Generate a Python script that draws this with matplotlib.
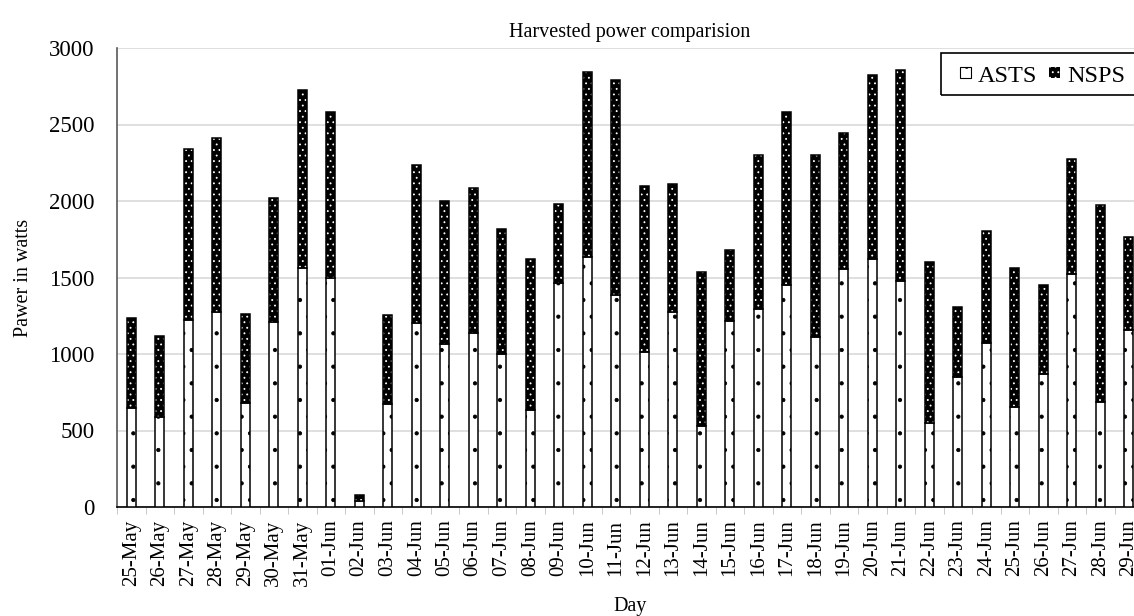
import matplotlib.pyplot as plt
from matplotlib.patches import Patch, Rectangle
import numpy as np

plt.rcParams['font.family'] = ['Liberation Serif', 'DejaVu Serif']
plt.rcParams['hatch.linewidth'] = 0.6

days = ['25-May', '26-May', '27-May', '28-May', '29-May', '30-May', '31-May',
        '01-Jun', '02-Jun', '03-Jun', '04-Jun', '05-Jun', '06-Jun', '07-Jun',
        '08-Jun', '09-Jun', '10-Jun', '11-Jun', '12-Jun', '13-Jun', '14-Jun',
        '15-Jun', '16-Jun', '17-Jun', '18-Jun', '19-Jun', '20-Jun', '21-Jun',
        '22-Jun', '23-Jun', '24-Jun', '25-Jun', '26-Jun', '27-Jun', '28-Jun',
        '29-Jun']

# ASTS = lower segment, total = top of the stack
asts = [650, 585, 1225, 1275, 680, 1210, 1565, 1500, 38, 671, 1203, 1064,
        1134, 1003, 637, 1461, 1635, 1384, 1016, 1275, 532, 1217, 1297, 1454,
        1110, 1554, 1618, 1480, 547, 852, 1075, 656, 868, 1520, 685, 1160]
total = [1234, 1116, 2339, 2411, 1262, 2017, 2725, 2581, 80, 1256, 2233, 1999,
         2082, 1814, 1620, 1982, 2841, 2788, 2095, 2110, 1537, 1683, 2300, 2581,
         2302, 2444, 2821, 2854, 1602, 1310, 1807, 1565, 1452, 2276, 1971, 1766]
nsps = [t - a for t, a in zip(total, asts)]

x = np.arange(len(days))
w = 0.33

fig = plt.figure(figsize=(11.34, 6.16), dpi=100)
ax = fig.add_axes([117/1134, 1 - 507/616, 1026/1134, 459/616])

ax.bar(x, asts, w, color='white', edgecolor='black', hatch='.', linewidth=1.1, zorder=3)
# NSPS: black fill with white dots, then a black outline on top
ax.bar(x, nsps, w, bottom=asts, color='black', edgecolor='white', hatch='...', linewidth=0, zorder=3)
ax.bar(x, nsps, w, bottom=asts, fill=False, edgecolor='black', linewidth=1.1, zorder=4)

ax.set_xlim(-0.5, len(days) - 0.5)
ax.set_ylim(0, 3000)
ax.set_yticks(np.arange(0, 3001, 500))
ax.set_xticks(x)
ax.set_xticklabels(days, rotation=90, fontsize=15)
ax.set_xticks(np.arange(-0.5, len(days), 1), minor=True)
ax.tick_params(axis='x', which='major', length=0, pad=9)
ax.tick_params(axis='x', which='minor', length=5, color='#bfbfbf')
ax.tick_params(axis='y', length=0, pad=16, labelsize=16.5)

ax.grid(axis='y', color='#d9d9d9', linewidth=1.2, zorder=0)
ax.set_axisbelow(True)
for s in ['top', 'right']:
    ax.spines[s].set_visible(False)
ax.spines['left'].set_color('#595959')
ax.spines['left'].set_linewidth(1.2)
ax.spines['bottom'].set_color('black')
ax.spines['bottom'].set_linewidth(1.2)

ax.set_title('Harvested power comparision', fontsize=14.5, pad=8)
ax.set_xlabel('Day', fontsize=14.5, labelpad=8)
ax.set_ylabel('Pawer in watts', fontsize=14.5, labelpad=12)

handles = [Patch(facecolor='white', edgecolor='black', hatch='.', linewidth=0.8),
           Patch(facecolor='black', edgecolor='white', hatch='...', linewidth=0)]
leg = ax.legend(handles, ['ASTS', 'NSPS'], loc='upper left',
                bbox_to_anchor=(950/1134, 1 - 56/616), bbox_transform=fig.transFigure,
                borderaxespad=0, ncol=2, fontsize=17.5, frameon=False, handlelength=0.45,
                handleheight=0.32, handletextpad=0.3, columnspacing=0.5, borderpad=0.4)
# legend frame runs past the right edge of the picture
fig.patches.append(Rectangle((941/1134, 1 - 95/616), 0.2, 42/616, transform=fig.transFigure,
                             fill=False, edgecolor='black', linewidth=1.2))

plt.savefig('out.png', dpi=100)
